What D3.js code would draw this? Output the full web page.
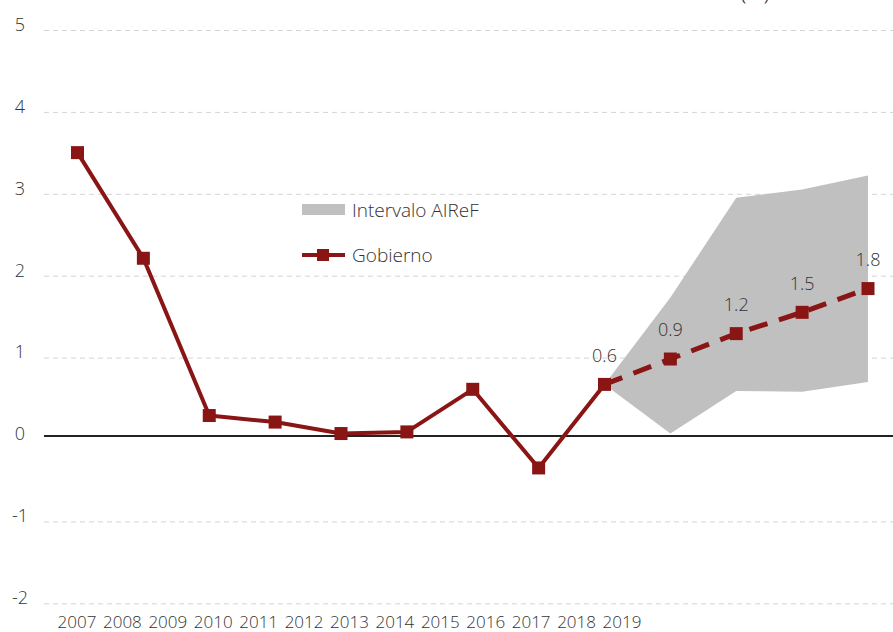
<!DOCTYPE html>
<html><head><meta charset="utf-8">
<script src="https://cdn.jsdelivr.net/npm/d3@7"></script>
<style>body{margin:0;background:#fff}svg{display:block}text{font-family:"Open Sans",sans-serif;font-weight:300}</style>
</head><body><svg id="c" width="893" height="632"></svg>
<script>
const years = ["2007","2008","2009","2010","2011","2012","2013","2014","2015","2016","2017","2018","2019"];
const gobierno = [3.46,2.17,0.25,0.17,0.03,0.05,0.57,-0.39,0.63,0.94,1.25,1.51,1.80];
const forecastStart = 8; // index where dashed part begins
const labelValues = ["","","","","","","","","0.6","0.9","1.2","1.5","1.8"];
const bandUpper = [null,null,null,null,null,null,null,null,0.63,1.69,2.91,3.01,3.18];
const bandLower = [null,null,null,null,null,null,null,null,0.63,0.03,0.55,0.54,0.66];
const yTicks = [5,4,3,2,1,0,-1,-2];

const svg = d3.select("#c");
const red = "#8A1515", gray = "#C0C0C0", txt = "#333";
const y = d3.scaleLinear().domain([-2,5]).range([599.8,26.5]);
const x = d3.scalePoint().domain(years).range([77.5,868]);
const xl = d3.scalePoint().domain(years).range([77,622]);

// gridlines
svg.append("g").selectAll("line").data(yTicks.filter(d=>d!==0)).join("line")
  .attr("x1",44).attr("x2",893).attr("y1",d=>y(d)+4).attr("y2",d=>y(d)+4)
  .attr("stroke","#d4d4d4").attr("stroke-width",1).attr("stroke-dasharray","5,4");
svg.append("g").selectAll("text").data(yTicks).join("text")
  .attr("x",20).attr("y",d=>y(d)-2).attr("dy","0.35em").attr("text-anchor","middle")
  .attr("font-size",18).attr("fill",txt).text(d=>d);

// band
const bandIdx = years.map((d,i)=>i).filter(i=>bandUpper[i]!==null);
const area = d3.area().x(i=>x(years[i])).y0(i=>y(bandLower[i])).y1(i=>y(bandUpper[i])).curve(d3.curveLinear);
svg.append("path").attr("d",area(bandIdx)).attr("fill",gray);

// zero line
svg.append("line").attr("x1",44).attr("x2",893).attr("y1",y(0)).attr("y2",y(0))
  .attr("stroke","#222").attr("stroke-width",2);

// x labels
svg.append("g").selectAll("text").data(years).join("text")
  .attr("x",d=>xl(d)).attr("y",622).attr("dy","0.35em").attr("text-anchor","middle")
  .attr("font-size",17).attr("fill",txt).text(d=>d);

// line
const line = d3.line().x(i=>x(years[i])).y(i=>y(gobierno[i]));
const idx = years.map((d,i)=>i);
svg.append("path").attr("d",line(idx.slice(0,forecastStart+1))).attr("fill","none")
  .attr("stroke",red).attr("stroke-width",4).attr("stroke-linejoin","round");
svg.append("path").attr("d",line(idx.slice(forecastStart))).attr("fill","none")
  .attr("stroke",red).attr("stroke-width",5).attr("stroke-dasharray","19,12");
svg.append("g").selectAll("rect").data(idx).join("rect")
  .attr("x",i=>x(years[i])-6.5).attr("y",i=>y(gobierno[i])-6.5).attr("width",13).attr("height",13)
  .attr("fill",red);

// data labels
svg.append("g").selectAll("text").data(idx.filter(i=>labelValues[i])).join("text")
  .attr("x",i=>x(years[i])).attr("y",i=>y(gobierno[i])-29).attr("dy","0.35em").attr("text-anchor","middle")
  .attr("font-size",18).attr("fill",txt).text(i=>labelValues[i]);

// legend
svg.append("rect").attr("x",302).attr("y",204).attr("width",43).attr("height",11).attr("fill",gray);
svg.append("text").attr("x",352).attr("y",210).attr("dy","0.35em").attr("font-size",19).attr("fill",txt).text("Intervalo AIReF");
svg.append("line").attr("x1",302).attr("x2",345).attr("y1",255).attr("y2",255).attr("stroke",red).attr("stroke-width",4);
svg.append("rect").attr("x",317).attr("y",249).attr("width",12).attr("height",12).attr("fill",red);
svg.append("text").attr("x",352).attr("y",255).attr("dy","0.35em").attr("font-size",19).attr("fill",txt).text("Gobierno");

// partially visible unit title
svg.append("text").attr("x",755).attr("y",0).attr("text-anchor","middle").attr("font-size",22).attr("fill","#222").text("(%)");
</script></body></html>
